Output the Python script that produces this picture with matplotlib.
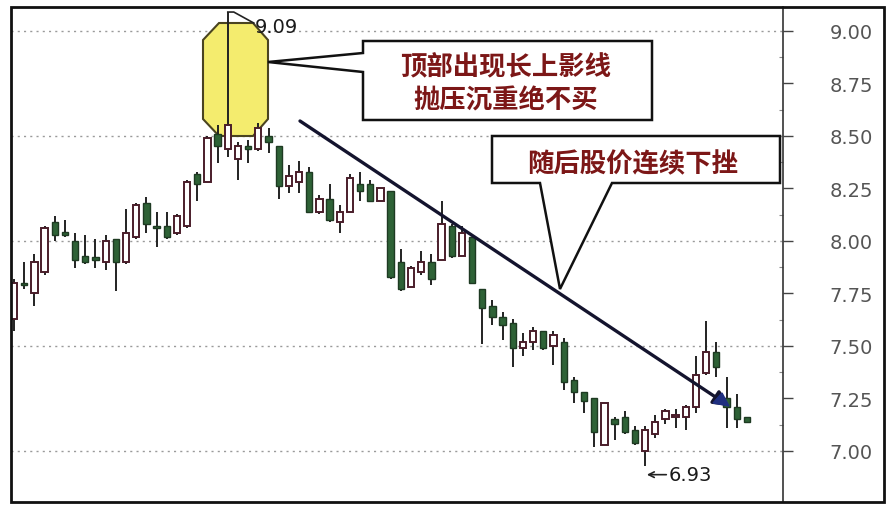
import numpy as np
import matplotlib
matplotlib.use('Agg')
import matplotlib.pyplot as plt
from matplotlib.patches import Polygon, Rectangle
from matplotlib.transforms import Affine2D

plt.rcParams['font.family'] = ['Noto Sans CJK SC', 'DejaVu Sans']

# daily candles (open, high, low, close)
opens = [7.63, 7.80, 7.75, 7.85, 8.09, 8.04, 8.00, 7.93, 7.92, 7.90, 8.01, 7.90,
         8.02, 8.18, 8.07, 8.07, 8.04, 8.07, 8.32, 8.28, 8.51, 8.44, 8.39, 8.45,
         8.44, 8.50, 8.45, 8.26, 8.28, 8.33, 8.14, 8.20, 8.09, 8.14, 8.27, 8.27,
         8.19, 8.24, 7.90, 7.78, 7.85, 7.90, 7.91, 8.07, 7.93, 8.02, 7.77, 7.69,
         7.64, 7.61, 7.49, 7.52, 7.57, 7.50, 7.52, 7.34, 7.28, 7.25, 7.03, 7.15,
         7.16, 7.10, 7.00, 7.08, 7.15, 7.16, 7.16, 7.21, 7.37, 7.47, 7.25, 7.21, 7.16]
highs = [7.82, 7.90, 7.94, 8.07, 8.12, 8.10, 8.04, 8.03, 8.01, 8.03, 8.01, 8.15,
         8.18, 8.21, 8.14, 8.14, 8.13, 8.29, 8.33, 8.50, 8.55, 9.09, 8.47, 8.48,
         8.56, 8.54, 8.45, 8.36, 8.38, 8.35, 8.22, 8.27, 8.17, 8.32, 8.33, 8.29,
         8.25, 8.24, 7.96, 7.88, 7.95, 7.94, 8.19, 8.08, 8.07, 8.02, 7.77, 7.72,
         7.66, 7.63, 7.56, 7.59, 7.57, 7.57, 7.54, 7.35, 7.28, 7.25, 7.23, 7.16,
         7.19, 7.12, 7.12, 7.17, 7.20, 7.20, 7.22, 7.45, 7.62, 7.52, 7.35, 7.27, 7.16]
lows = [7.57, 7.77, 7.69, 7.84, 8.00, 8.02, 7.87, 7.89, 7.87, 7.86, 7.76, 7.89,
        8.01, 8.04, 7.97, 8.01, 8.03, 8.06, 8.19, 8.28, 8.37, 8.40, 8.29, 8.37,
        8.43, 8.42, 8.20, 8.23, 8.23, 8.14, 8.13, 8.09, 8.04, 8.14, 8.19, 8.19,
        8.19, 7.82, 7.76, 7.78, 7.84, 7.79, 7.91, 7.92, 7.93, 7.80, 7.51, 7.60,
        7.53, 7.40, 7.45, 7.48, 7.48, 7.41, 7.29, 7.23, 7.18, 7.02, 7.03, 7.05,
        7.08, 7.03, 6.93, 7.06, 7.13, 7.11, 7.10, 7.18, 7.36, 7.35, 7.11, 7.11, 7.14]
closes = [7.80, 7.79, 7.90, 8.06, 8.03, 8.03, 7.91, 7.90, 7.91, 8.00, 7.90, 8.04,
          8.17, 8.08, 8.06, 8.02, 8.12, 8.28, 8.27, 8.49, 8.45, 8.55, 8.45, 8.44,
          8.54, 8.47, 8.26, 8.31, 8.33, 8.14, 8.20, 8.10, 8.14, 8.30, 8.24, 8.19,
          8.25, 7.83, 7.77, 7.87, 7.90, 7.82, 8.08, 7.93, 8.04, 7.80, 7.68, 7.64,
          7.60, 7.49, 7.52, 7.57, 7.49, 7.55, 7.33, 7.28, 7.24, 7.09, 7.23, 7.13,
          7.09, 7.04, 7.10, 7.14, 7.19, 7.17, 7.21, 7.36, 7.47, 7.40, 7.21, 7.15, 7.14]

yticks = [7.00, 7.25, 7.50, 7.75, 8.00, 8.25, 8.50, 8.75, 9.00]
gridlevels = [7.0, 7.5, 8.0, 8.5, 9.0]
note1 = ['顶部出现长上影线', '抛压沉重绝不买']
note2 = '随后股价连续下挫'

W, H = 892, 510
fig = plt.figure(figsize=(W / 100, H / 100), dpi=100)
fig.patch.set_facecolor('white')
# pixel coords, origin top-left
px = Affine2D().scale(1 / W, -1 / H).translate(0, 1) + fig.transFigure

ax = fig.add_axes([11 / W, 1 - 503 / H, (783 - 11) / W, (503 - 8) / H])
ax.set_xlim(-0.3, 75.55)
ax.set_ylim(6.757, 9.114)
ax.set_facecolor('white')

for lv in gridlevels:
    ax.axhline(lv, color='#9a9a9a', lw=1, ls=(0, (1.5, 3)), zorder=0)

o = np.array(opens); h = np.array(highs); l = np.array(lows); c = np.array(closes)
x = np.arange(len(o))
up = c >= o

# octagon highlight behind the candles
octa = [(219, 24), (253, 24), (268, 41), (268, 120), (253, 137), (219, 137), (203, 120), (203, 41)]
ax.add_patch(Polygon(octa, closed=True, transform=px, facecolor='#f4ec6e',
                     edgecolor='#4a4420', lw=1.5, zorder=1))

ax.vlines(x, l, h, color='#222222', lw=1.4, zorder=2)
bot = np.minimum(o, c)
hgt = np.maximum(np.abs(c - o), 0.012)
ax.bar(x[up], hgt[up], bottom=bot[up], width=0.62, facecolor='white',
       edgecolor='#4a1d2a', lw=1.4, zorder=3)
ax.bar(x[~up], hgt[~up], bottom=bot[~up], width=0.62, facecolor='#2e6236',
       edgecolor='#1e3a22', lw=1.0, zorder=3)

# right price axis
for s in ['top', 'left', 'bottom']:
    ax.spines[s].set_visible(False)
ax.spines['right'].set_color('#333333')
ax.spines['right'].set_linewidth(1.2)
ax.set_xticks([])
ax.yaxis.tick_right()
ax.set_yticks(yticks)
ax.set_yticklabels([f'{v:.2f}' for v in yticks], fontsize=14, color='#555555',
                   family='DejaVu Sans')
ax.tick_params(axis='y', which='major', direction='out', length=7.5, width=1,
               color='#444444', pad=26)
ax.set_yticks(np.arange(7.125, 9.0, 0.25), minor=True)
ax.tick_params(axis='y', which='minor', direction='in', length=3, width=0.8,
               color='#888888')

# high / low labels
dx = (ax.get_xlim()[1] - ax.get_xlim()[0]) / 772
dy = (ax.get_ylim()[1] - ax.get_ylim()[0]) / 495
ih = int(np.argmax(h)); il = int(np.argmin(l))
ax.plot([ih, ih + 6 * dx, ih + 26 * dx], [h[ih], h[ih], h[ih] - 11 * dy],
        color='#222222', lw=1.2, zorder=4)
ax.text(ih + 27 * dx, h[ih] - 14 * dy, f'{h[ih]:.2f}', fontsize=14, color='#1a1a1a',
        ha='left', va='center', family='DejaVu Sans', zorder=5)
ax.annotate('', xy=(il - 1 * dx, l[il] - 9 * dy), xytext=(il + 24 * dx, l[il] - 9 * dy),
            arrowprops=dict(arrowstyle='->', color='#222222', lw=1.2), zorder=5)
ax.text(il + 24 * dx, l[il] - 9 * dy, f'{l[il]:.2f}', fontsize=14, color='#1a1a1a',
        ha='left', va='center', family='DejaVu Sans', zorder=5)

# trend line with arrow
ax.annotate('', xy=(729, 407), xytext=(300, 122), xycoords=px, textcoords=px,
            arrowprops=dict(arrowstyle='-|>,head_length=0.9,head_width=0.45',
                            color='#14142e', lw=2.4, shrinkA=0, shrinkB=0), zorder=6)
ax.add_patch(Polygon([(729, 407), (713, 404), (722, 394)], closed=True, transform=px,
                     facecolor='#1f2f80', edgecolor='#1f2f80', zorder=7))

# callout boxes
box1 = [(363, 42), (652, 42), (652, 121), (363, 121), (363, 73), (268, 63), (363, 54)]
fig.patches.append(Polygon(box1, closed=True, transform=px, facecolor='white',
                           edgecolor='#111111', lw=1.8, zorder=8))
fig.text(506 / W, 1 - 68 / H, note1[0], fontsize=19, fontweight='black', color='#7c1717',
         ha='center', va='center', zorder=9)
fig.text(506 / W, 1 - 101 / H, note1[1], fontsize=19, fontweight='black', color='#7c1717',
         ha='center', va='center', zorder=9)

box2 = [(492, 137), (780, 137), (780, 184), (612, 184), (560, 290), (540, 184), (492, 184)]
fig.patches.append(Polygon(box2, closed=True, transform=px, facecolor='white',
                           edgecolor='#111111', lw=1.8, zorder=8))
fig.text(633 / W, 1 - 165 / H, note2, fontsize=19, fontweight='black', color='#7c1717',
         ha='center', va='center', zorder=9)

# outer frame
fig.patches.append(Rectangle((11, 8), 873, 495, transform=px, fill=False,
                             edgecolor='#111111', lw=2, zorder=10))

fig.savefig('out.png', dpi=100)
